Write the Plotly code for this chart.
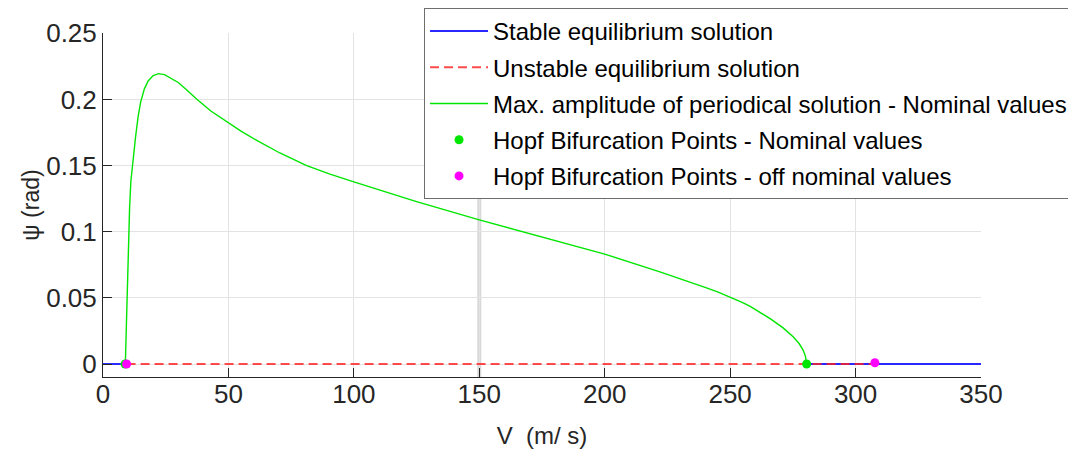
import plotly.graph_objects as go

# ---- data ----
stable_v = [0, 9.4, None, 280.5, 350]
stable_psi = [0, 0, None, 0, 0]

unstable_v = [9.4, 307.7]
unstable_psi = [0, 0]

amp_v = [8.9, 9.1, 9.4, 9.8, 10.2, 10.6, 11.1, 12.0, 13.0, 14.0, 15.0, 16.5, 18.0, 20.0,
         22.1, 24.5, 26.7, 30.0, 33.5, 37.3, 43.0, 50.0, 55.0, 61.3, 70.5, 81.2, 90.5,
         100.0, 106.4, 125.0, 150.0, 175.0, 200.0, 222.0, 230.0, 240.0, 245.0, 250.0,
         255.0, 258.0, 265.8, 271.0, 275.1, 277.5, 279.1, 280.0, 280.4, 280.5]
amp_psi = [0.0, 0.015, 0.036, 0.070, 0.096, 0.118, 0.138, 0.155, 0.172, 0.187, 0.198, 0.208,
           0.214, 0.218, 0.2195, 0.2187, 0.2165, 0.2128, 0.2070, 0.2003, 0.1912, 0.1823,
           0.1761, 0.1690, 0.1595, 0.150, 0.1435, 0.1377, 0.1339, 0.1228, 0.109, 0.0962,
           0.0831, 0.0697, 0.0647, 0.0580, 0.0545, 0.0508, 0.0465, 0.0435, 0.0345, 0.0275,
           0.0206, 0.0155, 0.0106, 0.006, 0.002, 0.0]

hopf_nom_v = [8.8, 280.5]
hopf_nom_psi = [0, 0]

hopf_off_v = [9.4, 307.7]
hopf_off_psi = [0, 0.001]

x_ticks = [0, 50, 100, 150, 200, 250, 300, 350]
y_ticks = [0, 0.05, 0.1, 0.15, 0.2, 0.25]
y_ticktext = ["0", "0.05", "0.1", "0.15", "0.2", "0.25"]

FONT = "Liberation Sans, Arial, sans-serif"

fig = go.Figure()

fig.add_trace(go.Scatter(x=stable_v, y=stable_psi, mode="lines",
                         line=dict(color="rgb(40,40,255)", width=2),
                         name="Stable equilibrium solution", legendgroup="a"))
fig.add_trace(go.Scatter(x=unstable_v, y=unstable_psi, mode="lines",
                         line=dict(color="rgba(255,30,30,0.8)", width=2, dash="9px,5px"),
                         name="Unstable equilibrium solution", legendgroup="b"))
fig.add_trace(go.Scatter(x=amp_v, y=amp_psi, mode="lines",
                         line=dict(color="#00e600", width=1.4),
                         name="Max. amplitude of periodical solution - Nominal values", legendgroup="c"))
fig.add_trace(go.Scatter(x=hopf_nom_v, y=hopf_nom_psi, mode="markers",
                         marker=dict(color="rgb(0,230,0)", size=9),
                         name="Hopf Bifurcation Points - Nominal values", legendgroup="d"))
fig.add_trace(go.Scatter(x=hopf_off_v, y=hopf_off_psi, mode="markers",
                         marker=dict(color="rgb(255,0,255)", size=9),
                         name="Hopf Bifurcation Points - off nominal values", legendgroup="e"))

# light vertical band at V = 150
fig.add_shape(type="line", xref="x", yref="paper", x0=150, x1=150, y0=0, y1=1,
              line=dict(color="rgba(200,200,200,0.7)", width=4), layer="below")

axis_common = dict(showline=True, linecolor="#262626", linewidth=1, ticks="inside",
                   ticklen=9, tickcolor="#262626", showgrid=True, gridcolor="#e3e3e3",
                   gridwidth=1, zeroline=False, mirror=False, automargin=False,
                   tickfont=dict(family=FONT, size=26, color="#262626"))

fig.update_layout(
    width=1076, height=454,
    margin=dict(l=95, r=103, t=25, b=85, autoexpand=False),
    plot_bgcolor="white", paper_bgcolor="white",
    font=dict(family=FONT, size=24, color="#262626"),
    xaxis=dict(range=[0, 350], tickvals=x_ticks, ticklabelstandoff=-6,
               title=dict(text="V  (m/ s)", font=dict(family=FONT, size=24, color="#262626"), standoff=18),
               **axis_common),
    yaxis=dict(range=[-0.0098, 0.2502], tickvals=y_ticks, ticktext=y_ticktext,
               title=dict(text="\u03c8 (rad)", font=dict(family=FONT, size=23, color="#262626"), standoff=0),
               **axis_common),
    legend=dict(xref="container", yref="container", x=0.9898, xanchor="right",
                y=1.0, yanchor="top",
                bgcolor="white", bordercolor="#6e6e6e", borderwidth=1,
                font=dict(family=FONT, size=24, color="black"),
                tracegroupgap=2, itemwidth=58),
    showlegend=True,
)

fig.write_html("out.html")
